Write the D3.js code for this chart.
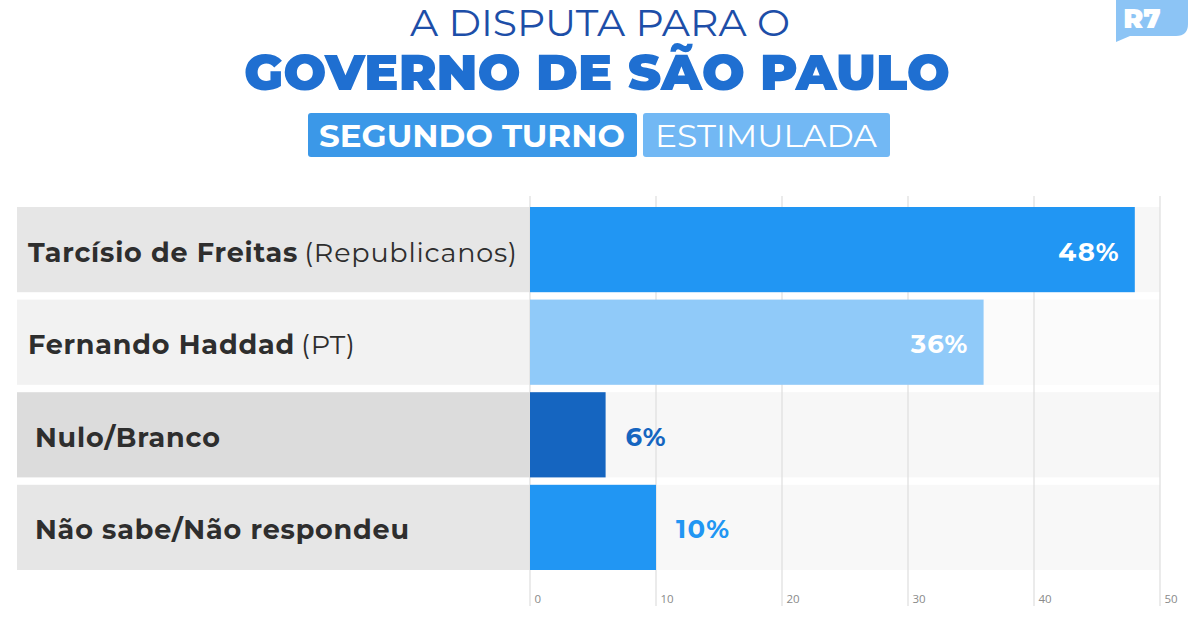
<!DOCTYPE html>
<html><head><meta charset="utf-8">
<script src="https://cdn.jsdelivr.net/npm/d3@7"></script>
<style>body{margin:0;background:#fff}svg{display:block}</style>
</head><body>
<svg id="c" width="1200" height="630"></svg>
<script>
const names = ["Tarcísio de Freitas", "Fernando Haddad", "Nulo/Branco", "Não sabe/Não respondeu"];
const parties = ["(Republicanos)", "(PT)", "", ""];
const values = [48, 36, 6, 10];
const valueLabels = ["48%", "36%", "6%", "10%"];
const ticks = [0, 10, 20, 30, 40, 50];
const barColors = ["#2196f3", "#90caf9", "#1565c0", "#2196f3"];
const labelBg = ["#e6e6e6", "#f2f2f2", "#dcdcdc", "#e6e6e6"];
const plotBg = ["#f7f7f7", "#fbfbfb", "#f7f7f7", "#f8f8f8"];

const svg = d3.select("#c");
const F = "Montserrat, Inter, 'Open Sans', sans-serif";

// title
svg.append("text").attr("x", 600).attr("y", 36).attr("text-anchor", "middle")
  .attr("font-family", F).attr("font-weight", 400).attr("font-size", 37)
  .attr("fill", "#1d4ea8").attr("textLength", 380).attr("lengthAdjust", "spacingAndGlyphs")
  .text("A DISPUTA PARA O");
svg.append("text").attr("x", 597).attr("y", 90).attr("text-anchor", "middle")
  .attr("font-family", F).attr("font-weight", 900).attr("font-size", 50)
  .attr("fill", "#1f6fd1").attr("textLength", 706).attr("lengthAdjust", "spacingAndGlyphs")
  .text("GOVERNO DE SÃO PAULO");
// badges
svg.append("rect").attr("x", 308).attr("y", 113).attr("width", 329).attr("height", 44).attr("rx", 3).attr("fill", "#3b98e8");
svg.append("rect").attr("x", 643).attr("y", 113).attr("width", 247).attr("height", 44).attr("rx", 3).attr("fill", "#72b8f4");
svg.append("text").attr("x", 472).attr("y", 147).attr("text-anchor", "middle")
  .attr("font-family", F).attr("font-weight", 700).attr("font-size", 31).attr("fill", "#fff")
  .attr("textLength", 306).attr("lengthAdjust", "spacingAndGlyphs").text("SEGUNDO TURNO");
svg.append("text").attr("x", 766).attr("y", 147).attr("text-anchor", "middle")
  .attr("font-family", F).attr("font-weight", 400).attr("font-size", 31).attr("fill", "#fff")
  .attr("textLength", 222).attr("lengthAdjust", "spacingAndGlyphs").text("ESTIMULADA");

// R7 logo
svg.append("path").attr("d", "M1116,0 L1188,0 L1188,24 Q1188,36 1176,36 L1130,36 L1116,42 Z").attr("fill", "#8cc4f5");
svg.append("text").attr("x", 1142).attr("y", 28).attr("text-anchor", "middle")
  .attr("font-family", F).attr("font-weight", 900).attr("font-size", 27).attr("fill", "#fff").text("R7");

// chart
const x = d3.scaleLinear().domain([0, 50]).range([530, 1160]);
const y = d3.scaleBand().domain(names).range([207, 570]).paddingInner(0.08).paddingOuter(0);
const labelLeft = 17;

const rows = svg.append("g");
names.forEach((n, i) => {
  rows.append("rect").attr("x", labelLeft).attr("y", y(n)).attr("width", x(0) - labelLeft).attr("height", y.bandwidth()).attr("fill", labelBg[i]);
  rows.append("rect").attr("x", x(0)).attr("y", y(n)).attr("width", x(50) - x(0)).attr("height", y.bandwidth()).attr("fill", plotBg[i]);
});

// grid
const grid = svg.append("g");
ticks.forEach(t => {
  grid.append("line").attr("x1", x(t)).attr("x2", x(t)).attr("y1", 196).attr("y2", 606)
    .attr("stroke", "#dedede").attr("stroke-width", 1.2);
});
// axis
const axis = d3.axisBottom(x).tickValues(ticks).tickSize(0).tickPadding(0);
const ag = svg.append("g").attr("transform", "translate(0,593)").call(axis);
ag.select(".domain").remove();
ag.selectAll("text").attr("text-anchor", "start").attr("dx", 4).attr("dy", "0.9em")
  .attr("font-family", "'Open Sans', sans-serif").attr("font-size", 11.5).attr("fill", "#8a8a8a");

// bars
svg.append("g").selectAll("rect").data(values).join("rect")
  .attr("x", x(0)).attr("y", (d, i) => y(names[i]))
  .attr("width", d => x(d) - x(0)).attr("height", y.bandwidth())
  .attr("fill", (d, i) => barColors[i]);

// value labels
svg.append("g").selectAll("text").data(values).join("text")
  .attr("x", (d, i) => i < 2 ? x(d) - 15 : x(d) + 20)
  .attr("y", (d, i) => y(names[i]) + y.bandwidth() / 2 + 11)
  .attr("text-anchor", (d, i) => i < 2 ? "end" : "start")
  .attr("font-family", F).attr("font-weight", 700).attr("font-size", 26)
  .attr("letter-spacing", 1.2)
  .attr("fill", (d, i) => i < 2 ? "#fff" : barColors[i])
  .text((d, i) => valueLabels[i]);

// category labels
names.forEach((n, i) => {
  const t = svg.append("text").attr("x", i < 2 ? 28 : 35).attr("y", y(n) + y.bandwidth() / 2 + 12)
    .attr("font-family", F).attr("font-size", 27).attr("letter-spacing", 0.8).attr("fill", "#2e2e2e");
  t.append("tspan").attr("font-weight", 700).text(n);
  if (parties[i]) t.append("tspan").attr("font-weight", 400).attr("dx", 6).text(parties[i]);
});
</script>
</body></html>
